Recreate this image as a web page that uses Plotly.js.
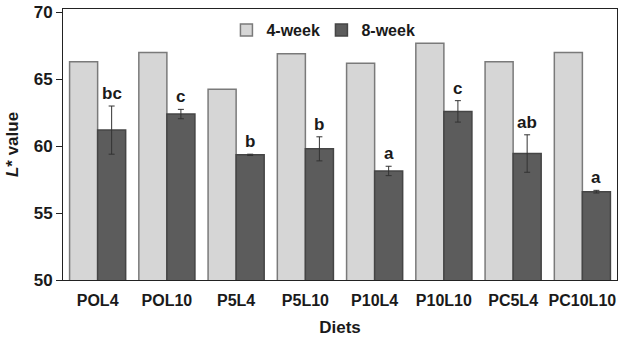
<!DOCTYPE html>
<html>
<head>
<meta charset="utf-8">
<script src="https://cdn.plot.ly/plotly-3.0.1.min.js"></script>
<style>html,body{margin:0;padding:0;background:#fff;}#chart{width:627px;height:338px;}</style>
</head>
<body>
<div id="chart"></div>
<script>
const diets = ["POL4", "POL10", "P5L4", "P5L10", "P10L4", "P10L10", "PC5L4", "PC10L10"];
const week4 = [66.3, 67.0, 64.25, 66.9, 66.2, 67.7, 66.3, 67.0];
const week8 = [61.2, 62.4, 59.35, 59.8, 58.15, 62.6, 59.45, 56.6];
const week8Err = [1.8, 0.35, 0.05, 0.9, 0.35, 0.8, 1.4, 0.1];
const letters = ["bc", "c", "b", "b", "a", "c", "ab", "a"];
const yTicks = [50, 55, 60, 65, 70];

const font = "Liberation Sans, Arial, sans-serif";

const traces = [
  {
    type: "bar", name: "4-week", x: diets, y: week4,
    marker: {color: "#d6d6d6", line: {color: "#7a7a7a", width: 1.5}}
  },
  {
    type: "bar", name: "8-week", x: diets, y: week8,
    marker: {color: "#5c5c5c", line: {color: "#454545", width: 1.5}},
    error_y: {type: "data", array: week8Err, visible: true, color: "#333", thickness: 1, width: 3}
  }
];

const annotations = diets.map((d, i) => ({
  x: d, y: week8[i] + week8Err[i], xref: "x", yref: "y",
  text: "<b>" + letters[i] + "</b>", showarrow: false,
  xshift: 14, yshift: 1, yanchor: "bottom",
  font: {family: font, size: 17, color: "#1a1a1a"}
}));

const layout = {
  width: 627, height: 338,
  margin: {l: 63, r: 10, t: 9, b: 58},
  paper_bgcolor: "#fff", plot_bgcolor: "#fff",
  barmode: "group", bargap: 0.19, bargroupgap: 0,
  showlegend: true,
  legend: {
    orientation: "h", x: 0.295, y: 0.985, xanchor: "left", yanchor: "top",
    font: {family: font, size: 16, color: "#1a1a1a", weight: "bold"},
    bgcolor: "rgba(0,0,0,0)", itemwidth: 30, traceorder: "normal",
    entrywidth: 50, entrywidthmode: "pixels"
  },
  xaxis: {
    type: "category",
    showline: true, linecolor: "#222", linewidth: 1, mirror: true,
    ticks: "", ticklabelstandoff: 6,
    tickfont: {family: font, size: 16, color: "#1a1a1a", weight: "bold"},
    title: {text: "<b>Diets</b>", font: {family: font, size: 17, color: "#1a1a1a"}, standoff: 12}
  },
  yaxis: {
    range: [50, 70.25], tickvals: yTicks,
    showline: true, linecolor: "#222", linewidth: 1, mirror: true,
    showgrid: false, zeroline: false,
    ticks: "outside", ticklen: 6, tickcolor: "#222",
    tickfont: {family: font, size: 17, color: "#1a1a1a", weight: "bold"},
    title: {text: "<b><i>L</i>* value</b>", font: {family: font, size: 17, color: "#1a1a1a"}, standoff: 10}
  },
  annotations: annotations
};

Plotly.newPlot("chart", traces, layout, {displayModeBar: false, staticPlot: true});
</script>
</body>
</html>
